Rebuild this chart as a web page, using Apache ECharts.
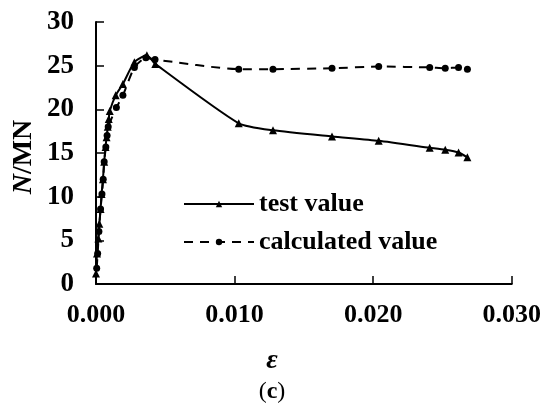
<!DOCTYPE html>
<html><head><meta charset="utf-8">
<script src="https://cdn.jsdelivr.net/npm/echarts@6/dist/echarts.min.js"></script>
<style>html,body{margin:0;padding:0;background:#fff}#c{width:544px;height:407px}</style>
</head><body><div id="c"></div>
<script>
const testX = [0.00000, 0.00007, 0.00017, 0.00024, 0.00033, 0.00040, 0.00050, 0.00059, 0.00069, 0.00076, 0.00085, 0.00092, 0.00099, 0.00142, 0.00194, 0.00277, 0.00367, 0.00428, 0.0103, 0.01277, 0.01703, 0.0204, 0.02408, 0.0252, 0.02616, 0.0268];
const testY = [1.2, 3.5, 5.2, 6.9, 8.6, 10.3, 12.0, 14.0, 15.7, 16.8, 18.0, 18.9, 19.8, 21.6, 22.9, 25.4, 26.2, 25.2, 18.4, 17.6, 16.9, 16.4, 15.6, 15.36, 15.05, 14.5];
const calcX = [0.00005, 0.00012, 0.00021, 0.00033, 0.00043, 0.00052, 0.00059, 0.00071, 0.00080, 0.00088, 0.00147, 0.00194, 0.00277, 0.00360, 0.00426, 0.0103, 0.01277, 0.01703, 0.0204, 0.02408, 0.0252, 0.02616, 0.0268];
const calcY = [1.8, 3.5, 6.0, 8.6, 10.3, 12.0, 14.0, 15.7, 17.0, 18.0, 20.2, 21.6, 24.8, 25.9, 25.7, 24.6, 24.6, 24.7, 24.9, 24.8, 24.7, 24.8, 24.6];
const seriesNames = ['test value', 'calculated value'];
const xTicks = ['0.000', '0.010', '0.020', '0.030'];

const font = '"Liberation Serif", "Times New Roman", serif';
const chart = echarts.init(document.getElementById('c'));
chart.setOption({
  animation: false,
  grid: {left: 96, right: 26, top: 22, bottom: 123},
  legend: {
    orient: 'vertical', left: 178, top: 186, itemWidth: 70, itemHeight: 8, itemGap: 12,
    textStyle: {fontFamily: font, fontWeight: 'bold', fontSize: 26, color: '#000'},
    data: seriesNames
  },
  xAxis: {
    type: 'value', min: 0, max: 0.03, interval: 0.01,
    axisLine: {lineStyle: {color: '#000', width: 2}},
    axisTick: {inside: true, length: 8, lineStyle: {color: '#000', width: 1.5}},
    splitLine: {show: false},
    axisLabel: {margin: 18, color: '#000', fontFamily: font, fontWeight: 'bold', fontSize: 26,
      formatter: (v) => xTicks[Math.round(v / 0.01)]}
  },
  yAxis: {
    type: 'value', min: 0, max: 30, interval: 5,
    axisLine: {show: true, lineStyle: {color: '#000', width: 2}},
    axisTick: {show: true, inside: true, length: 8, lineStyle: {color: '#000', width: 1.5}},
    splitLine: {show: false},
    axisLabel: {margin: 22, color: '#000', fontFamily: font, fontWeight: 'bold', fontSize: 27}
  },
  graphic: [
    {type: 'text', x: 24, y: 157, rotation: Math.PI / 2,
      style: {text: '{i|N}/MN', textAlign: 'center', textVerticalAlign: 'middle',
        font: 'bold 28px ' + font, fill: '#000',
        rich: {i: {fontStyle: 'italic', fontWeight: 'bold', fontSize: 28, fontFamily: font, fill: '#000'}}}},
    {type: 'text', x: 272, y: 361,
      style: {text: 'ε', textAlign: 'center', textVerticalAlign: 'middle',
        font: 'italic bold 28px ' + font, fill: '#000'}},
    {type: 'text', x: 272, y: 392,
      style: {text: '({b|c})', textAlign: 'center', textVerticalAlign: 'middle',
        font: '24px ' + font, fill: '#000',
        rich: {b: {fontWeight: 'bold', fontSize: 24, fontFamily: font, fill: '#000'}}}}
  ],
  series: [
    {name: seriesNames[0], type: 'line', data: testX.map((x, i) => [x, testY[i]]),
      symbol: 'triangle', symbolSize: 8, smooth: 0.2,
      lineStyle: {color: '#000', width: 2}, itemStyle: {color: '#000'}},
    {name: seriesNames[1], type: 'line', data: calcX.map((x, i) => [x, calcY[i]]),
      symbol: 'circle', symbolSize: 7, smooth: 0.2,
      lineStyle: {color: '#000', width: 2, type: [9, 7]}, itemStyle: {color: '#000'}}
  ]
});
</script></body></html>
